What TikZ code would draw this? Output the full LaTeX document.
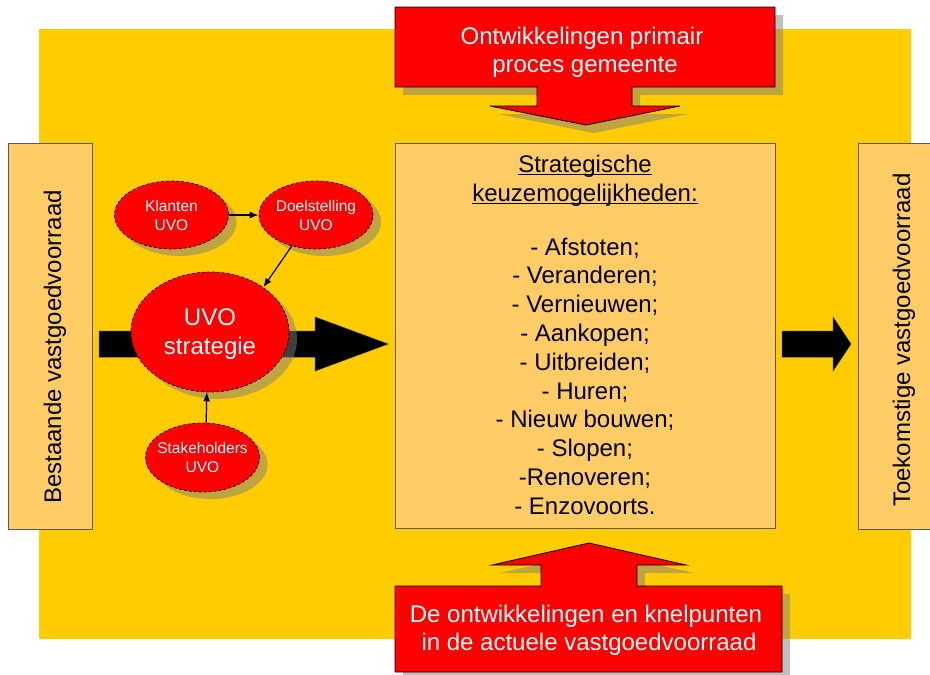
\documentclass[tikz,border=0pt]{standalone}
\usepackage{fontspec}
\setmainfont{Liberation Sans}
\usetikzlibrary{shapes.geometric,shadows,arrows.meta}
\definecolor{bgyellow}{HTML}{FFCC00}
\definecolor{boxfill}{HTML}{FFCC66}
\definecolor{uvored}{HTML}{FF0000}
\newcommand\zw[1]{\makebox[0pt]{#1}}
\newcommand\myul[1]{\setbox0\hbox{#1}\rlap{\rule[-3.3pt]{\wd0}{1.3pt}}\box0}
\begin{document}
\begin{tikzpicture}[x=1pt,y=-1pt,
  big/.style={font=\fontsize{24}{28.8}\selectfont},
  small/.style={font=\fontsize{15.5}{19}\selectfont},
  sidebox/.style={draw=black!65, line width=0.8pt, fill=boxfill, anchor=north west, inner sep=0pt},
  blockarrow/.style={fill=black, draw=black!80, line width=0.5pt},
  redarrow/.style={fill=uvored, draw=black, line width=0.8pt},
  redshadow/.style={fill=black!50, fill opacity=0.5},
  uvoell/.style={ellipse, fill=uvored, draw=black, line width=0.7pt,
    dash pattern=on 3pt off 2pt, text=white, align=center, inner sep=0pt,
    text depth=0pt, drop shadow={shadow xshift=8pt, shadow yshift=-7pt}},
  thinarr/.style={line width=1.2pt, -{Latex[length=9pt,width=7pt]}}
]
\useasboundingbox (0,0) rectangle (930,675);
% background
\fill[bgyellow] (39,29) rectangle (911,639);
% boxes
\node[sidebox, minimum width=84pt, minimum height=386pt] (lbox) at (8,143) {};
\node[sidebox, minimum width=380pt, minimum height=385pt] (cbox) at (395,143) {};
\node[sidebox, minimum width=88pt, minimum height=386pt] (rbox) at (858,143) {};
% block arrows
\draw[blockarrow] (99,331) -- (315,331) -- (315,317) -- (388,344) -- (315,371) -- (315,357) -- (99,357) -- cycle;
\draw[blockarrow] (782,331) -- (833,331) -- (833,317) -- (851,344) -- (833,371) -- (833,357) -- (782,357) -- cycle;
% ellipses
\node[uvoell, small, minimum width=114pt, minimum height=68pt] (klanten) at (171.5,215) {\zw{Klanten}\\\zw{UVO}};
\node[uvoell, small, minimum width=114pt, minimum height=68pt] (doel) at (316,215) {\zw{Doelstelling}\\\zw{UVO}};
\node[uvoell, font=\fontsize{24}{29}\selectfont, minimum width=158pt, minimum height=120pt] (uvo) at (210,332) {\zw{UVO}\\\zw{strategie}};
\node[uvoell, small, minimum width=114pt, minimum height=69pt] (stake) at (202.5,457.5) {\zw{Stakeholders}\\\zw{UVO}};
% thin arrows
\draw[thinarr] (klanten) -- (doel);
\draw[thinarr] (doel.232) -- (uvo.40);
\draw[thinarr] (stake.84) -- (uvo.267);
% side texts
\node[big, rotate=90, anchor=base] (ltext) at (61,347) {Bestaande vastgoedvoorraad};
\node[big, rotate=90, anchor=base] (rtext) at (910,340) {Toekomstige vastgoedvoorraad};
% centre texts
\node[big, anchor=base] (t1) at (585,172) {\myul{Strategische}};
\node[big, anchor=base] (t2) at (585,201) {\myul{keuzemogelijkheden:}};
\foreach \txt [count=\i from 0] in {- Afstoten;,- Veranderen;,- Vernieuwen;,- Aankopen;,- Uitbreiden;,- Huren;,- Nieuw bouwen;,- Slopen;,-Renoveren;,- Enzovoorts.}
  \node[big, anchor=base] (item\i) at (585,{255+28.8*\i}) {\txt};
% top red arrow
\fill[redshadow, shift={(8,8)}] (395,7) -- (775,7) -- (775,87) -- (632,87) -- (632,106) -- (680,106) -- (586,125) -- (490,106) -- (537,106) -- (537,87) -- (395,87) -- cycle;
\draw[redarrow] (395,7) -- (775,7) -- (775,87) -- (632,87) -- (632,106) -- (680,106) -- (586,125) -- (490,106) -- (537,106) -- (537,87) -- (395,87) -- cycle;
\node[big, text=white, anchor=base] (top1) at (582,44) {Ontwikkelingen primair};
\node[big, text=white, anchor=base] (top2) at (585,72) {proces gemeente};
% bottom red arrow
\fill[redshadow, shift={(8,8)}] (395,586) -- (541,586) -- (541,565) -- (492,565) -- (589,543) -- (686,565) -- (637,565) -- (637,586) -- (782,586) -- (782,672) -- (395,672) -- cycle;
\draw[redarrow] (395,586) -- (541,586) -- (541,565) -- (492,565) -- (589,543) -- (686,565) -- (637,565) -- (637,586) -- (782,586) -- (782,672) -- (395,672) -- cycle;
\node[big, text=white, anchor=base] (bot1) at (586,622) {De ontwikkelingen en knelpunten};
\node[big, text=white, anchor=base] (bot2) at (589,650) {in de actuele vastgoedvoorraad};
\end{tikzpicture}
\end{document}
